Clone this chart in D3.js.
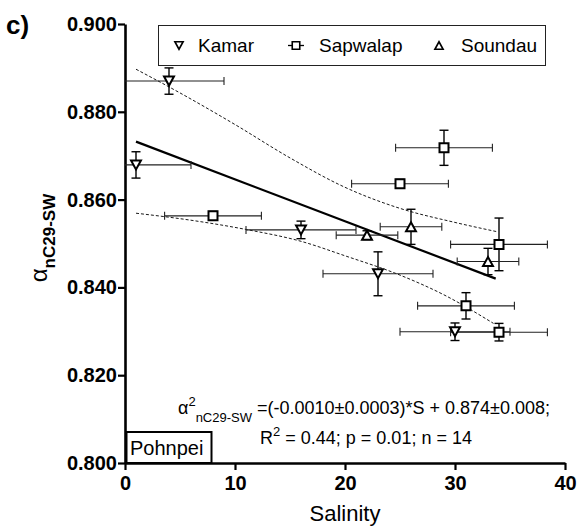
<!DOCTYPE html>
<html><head><meta charset="utf-8">
<script src="https://cdn.jsdelivr.net/npm/d3@7/dist/d3.min.js"></script>
<style>body{margin:0;background:#fff}svg{display:block;font-family:Arial,"Liberation Sans",sans-serif}</style>
</head><body><svg id="c" width="577" height="529"></svg>
<script>
// ---- data ----
const kamarS    = [4, 1, 16, 23, 30];
const kamarV    = [0.8870, 0.8679, 0.8531, 0.8431, 0.8299];
const kamarVErr = [0.003, 0.003, 0.002, 0.005, 0.002];
const kamarSErr = [5, 5, 5, 5, 5];

const sapS    = [8, 25, 29, 34, 31, 34];
const sapV    = [0.8563, 0.8636, 0.8718, 0.8498, 0.8358, 0.8298];
const sapVErr = [0.001, 0.001, 0.004, 0.006, 0.003, 0.002];
const sapSErr = [4.4, 4.4, 4.4, 4.4, 4.4, 4.4];

const souS    = [22, 26, 33];
const souV    = [0.8519, 0.8538, 0.8459];
const souVErr = [0.001, 0.004, 0.003];
const souSErr = [2.8, 2.8, 2.8];

const regS = [1, 33.7];
const regV = [0.8732, 0.8420];
const upperS = [1, 5, 10, 15, 20, 25, 30, 33.8];
const upperV = [0.8897, 0.8843, 0.8771, 0.8695, 0.8628, 0.8580, 0.8548, 0.8527];
const lowerS = [1, 6, 11, 16, 20, 25, 29, 33.5];
const lowerV = [0.8569, 0.8553, 0.8532, 0.8505, 0.8472, 0.8428, 0.8383, 0.8318];

const xTicks = [0, 10, 20, 30, 40];
const yTicks = [0.800, 0.820, 0.840, 0.860, 0.880, 0.900];
const seriesNames = ["Kamar", "Sapwalap", "Soundau"];

// ---- drawing ----
const svg = d3.select("#c");
const x = d3.scaleLinear().domain([0, 40]).range([125, 565]);
const y = d3.scaleLinear().domain([0.8, 0.9]).range([463, 24]);

svg.append("defs").append("clipPath").attr("id","clip")
  .append("rect").attr("x",125).attr("y",0).attr("width",450).attr("height",463);

// axes
const ya = svg.append("g").attr("transform","translate(125,0)")
  .call(d3.axisLeft(y).tickValues(yTicks).tickFormat(d3.format(".3f")).tickSize(7).tickSizeOuter(0).tickPadding(1));
const xa = svg.append("g").attr("transform","translate(0,463)")
  .call(d3.axisBottom(x).tickValues(xTicks).tickFormat(d3.format("d")).tickSize(7).tickSizeOuter(0).tickPadding(6));
[ya, xa].forEach(a => {
  a.select(".domain").attr("stroke","#000").attr("stroke-width",2.6);
  a.selectAll(".tick line").attr("stroke","#000").attr("stroke-width",2.2);
  a.selectAll(".tick text").attr("fill","#000").style("font-size","20px").style("font-weight","bold")
    .style("font-family","Arial, 'Liberation Sans', sans-serif");
});

const plot = svg.append("g").attr("clip-path","url(#clip)");
const line = d3.line().x(d => x(d[0])).y(d => y(d[1]));
const lineC = d3.line().x(d => x(d[0])).y(d => y(d[1])).curve(d3.curveMonotoneX);

plot.append("path").attr("d", lineC(d3.zip(upperS, upperV))).attr("fill","none")
  .attr("stroke","#000").attr("stroke-width",0.9).attr("stroke-dasharray","3,2");
plot.append("path").attr("d", lineC(d3.zip(lowerS, lowerV))).attr("fill","none")
  .attr("stroke","#000").attr("stroke-width",0.9).attr("stroke-dasharray","3,2");
plot.append("path").attr("d", line(d3.zip(regS, regV))).attr("fill","none")
  .attr("stroke","#000").attr("stroke-width",2.2);

const series = [
  {name:"Kamar", S:kamarS, V:kamarV, ve:kamarVErr, se:kamarSErr, sym:"down"},
  {name:"Sapwalap", S:sapS, V:sapV, ve:sapVErr, se:sapSErr, sym:"square"},
  {name:"Soundau", S:souS, V:souV, ve:souVErr, se:souSErr, sym:"up"}
];

function markerPath(sym, sz) {
  if (sym === "square") { const h = sz/2; return `M${-h},${-h}H${h}V${h}H${-h}Z`; }
  const w = sz*0.55, hh = sz*0.5;
  if (sym === "down") return `M${-w},${-hh}L${w},${-hh}L0,${hh}Z`;
  return `M${-w},${hh}L${w},${hh}L0,${-hh}Z`;
}

const eb = plot.append("g");
series.forEach(s => {
  s.S.forEach((sv, i) => {
    const cx = x(sv), cy = y(s.V[i]);
    const xl = x(sv - s.se[i]), xr = x(sv + s.se[i]);
    eb.append("line").attr("x1",xl).attr("x2",xr).attr("y1",cy).attr("y2",cy)
      .attr("stroke","#222").attr("stroke-width",1.1);
    [xl, xr].forEach(xx => eb.append("line").attr("x1",xx).attr("x2",xx).attr("y1",cy-4).attr("y2",cy+4)
      .attr("stroke","#222").attr("stroke-width",1.1));
    const yt = y(s.V[i] + s.ve[i]), yb = y(s.V[i] - s.ve[i]);
    eb.append("line").attr("x1",cx).attr("x2",cx).attr("y1",yt).attr("y2",yb)
      .attr("stroke","#000").attr("stroke-width",1.4);
    [yt, yb].forEach(yy => eb.append("line").attr("x1",cx-4.5).attr("x2",cx+4.5).attr("y1",yy).attr("y2",yy)
      .attr("stroke","#000").attr("stroke-width",1.4));
  });
});
const mk = svg.append("g");
series.forEach(s => {
  s.S.forEach((sv, i) => {
    mk.append("path").attr("d", markerPath(s.sym, 9))
      .attr("transform", `translate(${x(sv)},${y(s.V[i])})`)
      .attr("fill","#fff").attr("stroke","#000").attr("stroke-width",2);
  });
});

// legend
svg.append("rect").attr("x",158.5).attr("y",25.5).attr("width",387).attr("height",40)
  .attr("fill","#fff").attr("stroke","#222").attr("stroke-width",1);
const legX = [179, 296, 439], legTX = [198, 319, 461];
series.forEach((s, i) => {
  if (s.sym === "square") {
    svg.append("line").attr("x1",legX[i]-8).attr("x2",legX[i]+8).attr("y1",45.5).attr("y2",45.5)
      .attr("stroke","#000").attr("stroke-width",1.3);
  }
  svg.append("path").attr("d", markerPath(s.sym, 7.5))
    .attr("transform", `translate(${legX[i]},45.5)`)
    .attr("fill","#fff").attr("stroke","#000").attr("stroke-width",1.6);
  svg.append("text").attr("x",legTX[i]).attr("y",52).text(seriesNames[i])
    .style("font-size","19px").attr("fill","#000");
});

// panel label
svg.append("text").attr("x",6).attr("y",34).text("c)").style("font-size","26px").style("font-weight","bold");

// y title
const yt = svg.append("text").attr("transform","translate(47,238) rotate(-90)").attr("text-anchor","middle");
yt.append("tspan").text("α").style("font-size","24px");
yt.append("tspan").text("nC29-SW").attr("dy",8).style("font-size","17px").style("font-weight","bold");

// x title
svg.append("text").attr("x",345).attr("y",521).attr("text-anchor","middle").text("Salinity").style("font-size","22px");

// Pohnpei box
svg.append("rect").attr("x",126.5).attr("y",432).attr("width",85).attr("height",31).attr("fill","#fff")
  .attr("stroke","#000").attr("stroke-width",2);
svg.append("text").attr("x",130).attr("y",455).text("Pohnpei").style("font-size","20px");

// equation
const e1 = svg.append("text").attr("x",364).attr("y",414).attr("text-anchor","middle").style("font-size","18px");
e1.append("tspan").text("α");
e1.append("tspan").text("2").attr("dy",-8).style("font-size","13px");
e1.append("tspan").text("nC29-SW").attr("dy",16).style("font-size","13px");
e1.append("tspan").text(" =(-0.0010±0.0003)*S + 0.874±0.008;").attr("dy",-8);
const e2 = svg.append("text").attr("x",366).attr("y",444).attr("text-anchor","middle").style("font-size","18px");
e2.append("tspan").text("R");
e2.append("tspan").text("2").attr("dy",-8).style("font-size","13px");
e2.append("tspan").text(" = 0.44; p = 0.01; n = 14").attr("dy",8);
</script></body></html>
